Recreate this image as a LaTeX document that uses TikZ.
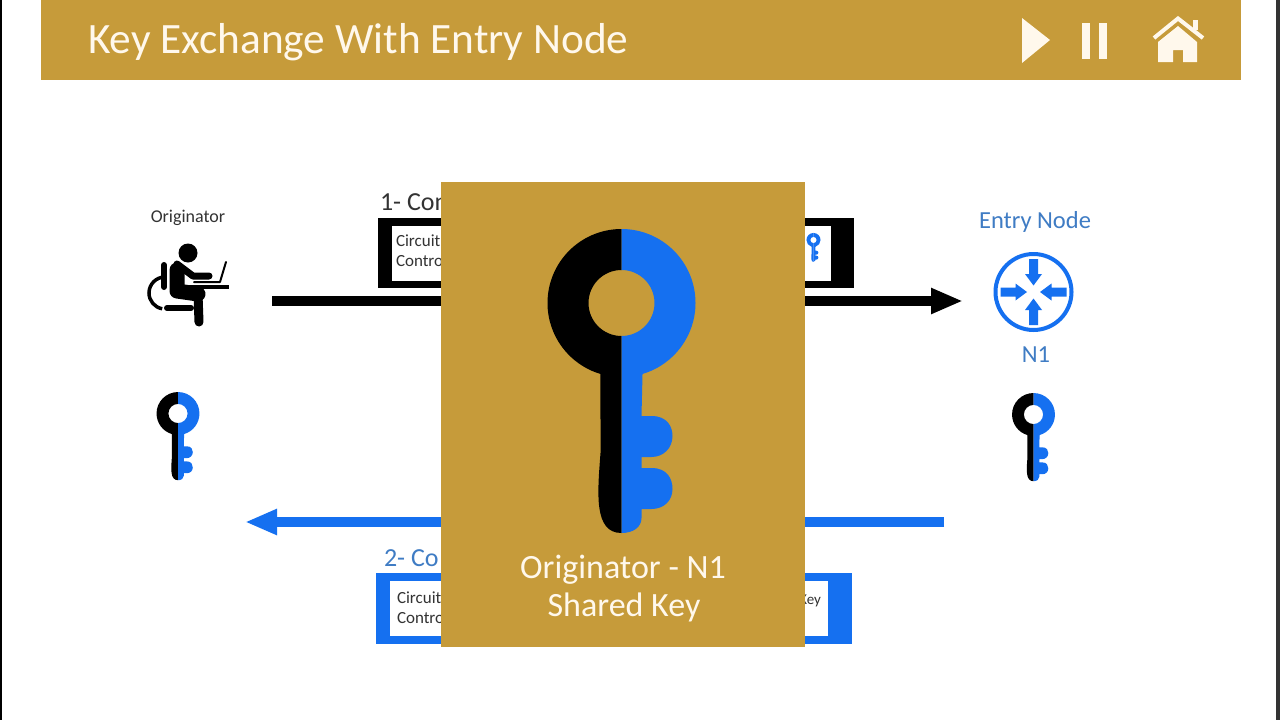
\documentclass[tikz,border=0pt]{standalone}
\usepackage{fontspec}
\setmainfont{Carlito}
\usetikzlibrary{arrows.meta,positioning,calc}
\definecolor{gold}{HTML}{C69B3A}
\definecolor{cream}{HTML}{FFF8EC}
\definecolor{azure}{HTML}{1570F0}
\definecolor{steel}{HTML}{3F7CC4}
\definecolor{ink}{HTML}{333333}
\tikzset{label/.style={inner sep=0pt,outer sep=0pt,align=center}, leftlabel/.style={label,anchor=west}, band/.style={fill=gold,inner sep=0pt,outer sep=0pt}, frame/.style={inner sep=0pt,outer sep=0pt}, sheet/.style={fill=white,inner sep=0pt,outer sep=0pt}, flow/.style={-{Triangle[length=32pt,width=24pt]},line width=10pt}, limb/.style={black,line cap=round,line join=round}}
\tikzset{pics/keyicon/.style 2 args={code={
\fill[#1] (0,-74) arc[start angle=270,end angle=106.5,radius=74] -- (-21,150) .. controls (-24,190) and (-28,230) .. (0,230) -- (0,33) arc[start angle=90,end angle=270,radius=33] -- cycle;
\fill[#2] (0,-74) arc[start angle=-90,end angle=73.5,radius=74] -- (20,113) -- (30,113) .. controls (46,113) and (51,124) .. (51,133) .. controls (51,145) and (42,154) .. (30,154) -- (20,154) -- (20,165) -- (30,165) .. controls (46,165) and (51,176) .. (51,186) .. controls (51,198) and (42,206) .. (30,206) -- (20,206) -- (20,215) .. controls (20,224) and (12,230) .. (0,230) -- (0,33) arc[start angle=90,end angle=-90,radius=33] -- cycle;
}}}
\begin{document}
\begin{tikzpicture}[x=1pt,y=-1pt]
\useasboundingbox (0,0) rectangle (1280,720);
\fill[white] (0,0) rectangle (1280,720);
\fill[black] (0,0) rectangle (1.5,720);
\fill[black!80] (1276,0) rectangle (1280,720);
% header
\node[band,minimum width=1200pt,minimum height=80pt] (header) at (641,40) {};
\node[leftlabel,text=cream,font=\fontsize{43.3}{43.3}\selectfont] (title) at (88,42) {Key Exchange With Entry Node};
\fill[cream] (1022,18) -- (1050,40) -- (1022,63) -- cycle;
\fill[cream] (1082,23) rectangle (1090,59);
\fill[cream] (1099,23) rectangle (1107,59);
\fill[cream] (1178,26) -- (1197,42) -- (1197,62) -- (1183,62) -- (1183,50) -- (1173,50) -- (1173,62) -- (1158,62) -- (1158,42) -- cycle;
\fill[cream] (1193,20) rectangle (1198,30);
\draw[cream,line width=4pt] (1154,38) -- (1178,18.5) -- (1203,38);
% originator
\node[label,text=ink,font=\fontsize{18}{18}\selectfont] (originator) at (188,218) {Originator};
\fill[black] (188,253) circle (9.5);
\draw[limb,line width=15pt] (177,270) -- (177,291) -- (198,294);
\draw[limb,line width=9pt] (198,294) -- (199,322);
\draw[limb,line width=7pt] (177,264) -- (193,276) -- (209,276);
\draw[limb,line width=6pt] (164,265) -- (164,287);
\draw[limb,line width=6pt] (167,308) -- (191,308);
\draw[black,line width=3.5pt] (165,277) arc[start angle=270,end angle=100,radius=16];
\draw[black,line width=4pt] (190,287) -- (229,287);
\draw[limb,line width=2pt] (194,282) -- (220,282) -- (226,262);
\pic[scale=.29] at (178,413.5) {keyicon={black}{azure}};
% messages
\node[frame,fill=black,minimum width=476pt,minimum height=70pt] (requestbox) at (616,253) {};
\node[sheet,minimum width=439pt,minimum height=55pt] (requestsheet) at (611.5,253) {};
\node[leftlabel,font=\fontsize{26}{26}\selectfont,text=ink] (requesttitle) at (380,202) {1- Con};
\node[leftlabel,text=ink,font=\fontsize{17}{17}\selectfont] (requestid) at (396,241) {Circuit};
\node[leftlabel,text=ink,font=\fontsize{17}{17}\selectfont] (requestctl) at (396,261) {Control};
\pic[scale=.095] at (813.5,240) {keyicon={azure}{azure}};
\node[frame,fill=azure,minimum width=476pt,minimum height=71pt] (replybox) at (614,608.5) {};
\node[sheet,minimum width=438pt,minimum height=55pt] (replysheet) at (609,608.5) {};
\node[leftlabel,font=\fontsize{26}{26}\selectfont,text=steel] (replytitle) at (384,558) {2- Co};
\node[leftlabel,text=ink,font=\fontsize{17}{17}\selectfont] (replyid) at (397,598) {Circuit};
\node[leftlabel,text=ink,font=\fontsize{17}{17}\selectfont] (replyctl) at (397,618) {Control};
\node[label,anchor=east,text=ink,font=\fontsize{15}{15}\selectfont] (replykey) at (821,601) {Key};
% entry node
\node[label,text=steel,font=\fontsize{24.5}{24.5}\selectfont] (entry) at (1035,222) {Entry Node};
\node[circle,draw=azure,line width=4pt,minimum size=76pt,inner sep=0pt] (router) at (1033.5,292) {};
\foreach \ang in {0,90,180,270} {\fill[azure,rotate around={\ang:(router.center)}] ($(router.center)+(33,-4.5)$) -- ($(router.center)+(18,-4.5)$) -- ($(router.center)+(18,-8.5)$) -- ($(router.center)+(6.5,0)$) -- ($(router.center)+(18,8.5)$) -- ($(router.center)+(18,4.5)$) -- ($(router.center)+(33,4.5)$) -- cycle;}
\node[label,text=steel,font=\fontsize{24.5}{24.5}\selectfont] (nodename) at (1036,355) {N1};
\pic[scale=.29] at (1033.5,414.5) {keyicon={black}{azure}};
% arrows
\coordinate (sendfrom) at (272,301);
\coordinate (sendto) at (963,301);
\coordinate (replyfrom) at (944,522);
\coordinate (replyto) at (245,522);
\draw[flow,black] (sendfrom)--(sendto);
\draw[flow,azure] (replyfrom)--(replyto);
% popup
\node[band,minimum width=364pt,minimum height=465pt] (panel) at (623,414.5) {};
\pic at (621.5,303) {keyicon={black}{azure}};
\node[label,text=cream,font=\fontsize{34}{34}\selectfont] (sharedtop) at (623,570) {Originator - N1};
\node[label,text=cream,font=\fontsize{34}{34}\selectfont] (sharedkey) at (624,607) {Shared Key};
\end{tikzpicture}
\end{document}
